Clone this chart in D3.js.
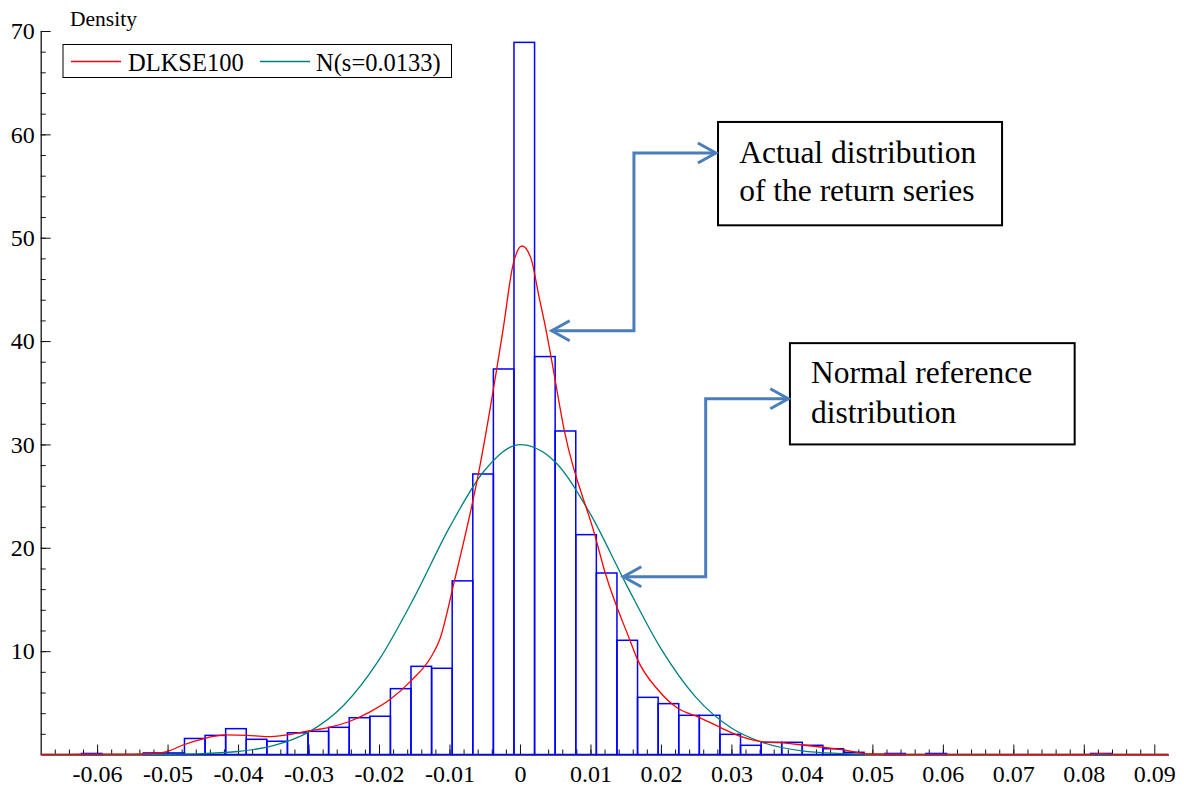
<!DOCTYPE html>
<html>
<head>
<meta charset="utf-8">
<script src="https://cdn.jsdelivr.net/npm/d3@7"></script>
<style>
  html, body { margin: 0; padding: 0; background: #fff; }
  svg { display: block; }
  svg text { font-family: "Liberation Serif", "Times New Roman", Tinos, serif; }
</style>
</head>
<body>
<svg id="chart" width="1184" height="786"></svg>
<script>
// ---------------- data ----------------
// Histogram of DLKSE100 returns (density), regular bins
const binStart = -0.062213;   // left edge of first bin
const binWidth = 0.002922;
const histDensity = [
  0.1, 0, 0, 0.15, 0.15, 1.55, 1.85, 2.5, 1.47, 1.28,
  2.1, 2.24, 2.63, 3.56, 3.7, 6.37, 8.53, 8.34, 16.8, 27.14,
  37.3, 68.9, 38.5, 31.3, 21.27, 17.56, 11.05, 5.53, 4.92, 3.79,
  3.79, 1.95, 0.89, 1.18, 1.18, 0.89, 0.56, 0.21, 0, 0.1,
  0, 0.1, 0, 0, 0, 0, 0, 0, 0, 0.1
];

// Kernel density estimate (red)
const kdeX = [-0.068, -0.064, -0.06, -0.055, -0.052, -0.05, -0.0478, -0.0447, -0.0426, -0.0416,
  -0.0388, -0.0359, -0.0331, -0.0301, -0.0272, -0.0243, -0.0214, -0.0184, -0.0155, -0.0126,
  -0.0114, -0.0093, -0.0059, -0.0024, -0.00095, 0.0003, 0.00156, 0.0027, 0.0037, 0.0044,
  0.0063, 0.0106, 0.0121, 0.0156, 0.0166, 0.0196, 0.0224, 0.0254, 0.0284, 0.0314,
  0.0342, 0.0369, 0.0401, 0.0459, 0.0497, 0.055, 0.06, 0.07, 0.08, 0.0825, 0.085, 0.092];
const kdeY = [0, 0.02, 0.03, 0.03, 0.1, 0.3, 0.92, 1.57, 1.85, 1.9,
  1.86, 1.72, 1.9, 2.27, 2.6, 3.17, 4.08, 5.34, 7.1, 9.46,
  11.1, 16.8, 27.14, 41.1, 47.5, 49.2, 48.0, 44.3, 41.07, 38.5,
  31.3, 21.27, 17.56, 11.05, 9.3, 6.24, 4.47, 3.6, 2.63, 1.72,
  1.24, 1.14, 0.92, 0.44, 0.05, 0.02, 0.02, 0, 0, 0.08, 0, 0];

// Normal reference N(s=0.0133) (teal)
const normX = [-0.068, -0.065, -0.06, -0.055, -0.05, -0.045, -0.04, -0.035, -0.03, -0.025,
  -0.02, -0.015, -0.01, -0.005, 0, 0.005, 0.01, 0.015, 0.02, 0.025,
  0.03, 0.035, 0.04, 0.045, 0.05, 0.055, 0.06, 0.07, 0.08, 0.092];
const normY = [0, 0, 0.001, 0.005, 0.022, 0.086, 0.29, 0.85, 2.16, 4.77,
  9.15, 15.2, 21.97, 27.5, 29.98, 28.3, 23.25, 16.56, 10.24, 5.5,
  2.56, 1.04, 0.36, 0.11, 0.03, 0.007, 0, 0, 0, 0];

const seriesNames = ["DLKSE100", "N(s=0.0133)"];
const seriesColors = ["#ff0000", "#008080"];

const xMajorTicks = [-0.06, -0.05, -0.04, -0.03, -0.02, -0.01, 0, 0.01, 0.02, 0.03, 0.04, 0.05, 0.06, 0.07, 0.08, 0.09];
const xTickLabels = ["-0.06", "-0.05", "-0.04", "-0.03", "-0.02", "-0.01", "0", "0.01", "0.02", "0.03", "0.04", "0.05", "0.06", "0.07", "0.08", "0.09"];
const yMajorTicks = [10, 20, 30, 40, 50, 60, 70];
const yTickLabels = ["10", "20", "30", "40", "50", "60", "70"];

// annotations
const annoText1 = ["Actual distribution", "of the return series"];
const annoText2 = ["Normal reference", "distribution"];

// ---------------- drawing ----------------
const FONT = '"Liberation Serif", "Times New Roman", Tinos, serif';
const svg = d3.select("#chart");
const x = d3.scaleLinear().domain([-0.068, 0.092]).range([40.7, 1168.4]);
const y = d3.scaleLinear().domain([0, 70]).range([754.5, 31]);

const xMinor = d3.range(-0.066, 0.0885, 0.002).map(v => +v.toFixed(3));
const yMinor = d3.range(2, 70, 2);

const gx = svg.append("g").attr("transform", `translate(0,${y(0)})`);
gx.call(d3.axisBottom(x).tickValues(xMinor).tickSize(-5).tickSizeOuter(0).tickFormat(""));
gx.select(".domain").attr("stroke", "#333").attr("stroke-width", 1.5);
gx.selectAll(".tick line").attr("stroke", "#111");
gx.selectAll(".tick text").remove();
const gx2 = svg.append("g").attr("transform", `translate(0,${y(0)})`);
gx2.call(d3.axisBottom(x).tickValues(xMajorTicks).tickSize(-10).tickSizeOuter(0).tickPadding(11)
  .tickFormat((d, i) => xTickLabels[i]));
gx2.select(".domain").remove();
gx2.selectAll(".tick line").attr("stroke", "#111");
gx2.selectAll("text").attr("font-size", 24).style("font-family", FONT).attr("fill", "#000").attr("dy", "0.68em");

const gy = svg.append("g").attr("transform", `translate(${x(-0.068)},0)`);
gy.call(d3.axisLeft(y).tickValues(yMinor).tickSize(-5).tickSizeOuter(0).tickFormat(""));
gy.select(".domain").attr("stroke", "#000").attr("stroke-width", 1.2);
gy.selectAll(".tick line").attr("stroke", "#111");
gy.selectAll(".tick text").remove();
const gy2 = svg.append("g").attr("transform", `translate(${x(-0.068)},0)`);
gy2.call(d3.axisLeft(y).tickValues(yMajorTicks).tickSize(-10).tickSizeOuter(0).tickPadding(6)
  .tickFormat((d, i) => yTickLabels[i]));
gy2.select(".domain").remove();
gy2.selectAll(".tick line").attr("stroke", "#111");
gy2.selectAll("text").attr("font-size", 24).style("font-family", FONT).attr("fill", "#000");

svg.append("text").attr("x", 70).attr("y", 26).attr("font-size", 21.5).style("font-family", FONT).text("Density");

// histogram bars
const bins = histDensity.map((d, i) => ({ x0: binStart + i * binWidth, x1: binStart + (i + 1) * binWidth, d }))
  .filter(b => b.d > 0);
svg.append("g").selectAll("rect").data(bins).join("rect")
  .attr("x", b => x(b.x0))
  .attr("width", b => x(b.x1) - x(b.x0))
  .attr("y", b => y(b.d))
  .attr("height", b => y(0) - y(b.d))
  .attr("fill", "none")
  .attr("stroke", "#0000ff")
  .attr("stroke-width", 1.5);

// curves
const line = d3.line().x(p => x(p[0])).y(p => y(p[1])).curve(d3.curveMonotoneX);
svg.append("path").datum(normX.map((v, i) => [v, normY[i]]))
  .attr("d", line).attr("fill", "none").attr("stroke", seriesColors[1]).attr("stroke-width", 1.3);
svg.append("path").datum(kdeX.map((v, i) => [v, kdeY[i]]))
  .attr("d", line).attr("fill", "none").attr("stroke", seriesColors[0]).attr("stroke-width", 1.3);

// legend
const lg = svg.append("g");
lg.append("rect").attr("x", 63).attr("y", 44.5).attr("width", 388.5).attr("height", 33)
  .attr("fill", "#fff").attr("stroke", "#000").attr("stroke-width", 1);
const legX = [[71, 121, 128], [260, 310, 316]];
seriesNames.forEach((n, i) => {
  lg.append("line").attr("x1", legX[i][0]).attr("x2", legX[i][1]).attr("y1", 61.5).attr("y2", 61.5)
    .attr("stroke", seriesColors[i]).attr("stroke-width", 1.3);
  lg.append("text").attr("x", legX[i][2]).attr("y", 71).attr("font-size", 24.5).style("font-family", FONT).text(n);
});

// annotations
const arrowColor = "#4a7ebb";
function box(x0, y0, x1, y1, lines, tx, ty0, dy) {
  svg.append("rect").attr("x", x(x0)).attr("y", y(y0)).attr("width", x(x1) - x(x0)).attr("height", y(y1) - y(y0))
    .attr("fill", "#fff").attr("stroke", "#000").attr("stroke-width", 2);
  lines.forEach((t, i) => svg.append("text").attr("x", x(tx)).attr("y", y(ty0) + i * dy)
    .attr("font-size", 31.5).style("font-family", FONT).text(t));
}
function elbowArrow(pts) {
  const p = pts.map(q => [x(q[0]), y(q[1])]);
  svg.append("path").attr("d", d3.line()(p)).attr("fill", "none").attr("stroke", arrowColor)
    .attr("stroke-width", 3).attr("stroke-linejoin", "miter");
  [[p[0], p[1]], [p[p.length - 1], p[p.length - 2]]].forEach(([tip, prev]) => {
    const ang = Math.atan2(tip[1] - prev[1], tip[0] - prev[0]);
    const L = 18, W = 10;
    const bx = tip[0] - L * Math.cos(ang), by = tip[1] - L * Math.sin(ang);
    const nx = -Math.sin(ang) * W, ny = Math.cos(ang) * W;
    svg.append("path").attr("d", `M${bx + nx},${by + ny}L${tip[0]},${tip[1]}L${bx - nx},${by - ny}`)
      .attr("fill", "none").attr("stroke", arrowColor).attr("stroke-width", 3);
  });
}
box(0.0281, 61.2, 0.0684, 51.2, annoText1, 0.0311, 57.2, 38);
elbowArrow([[0.0278, 58.2], [0.01617, 58.2], [0.01617, 41.0], [0.0045, 41.0]]);
box(0.0383, 39.8, 0.0787, 30.0, annoText2, 0.0413, 35.9, 40);
elbowArrow([[0.03807, 34.42], [0.02635, 34.42], [0.02635, 17.2], [0.01466, 17.2]]);
</script>
</body>
</html>
